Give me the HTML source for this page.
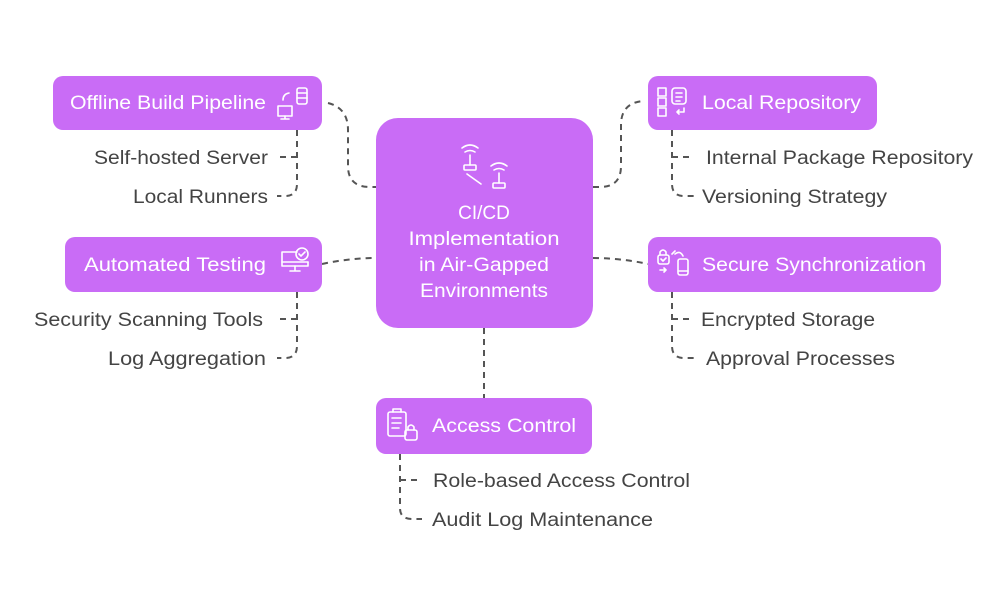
<!DOCTYPE html>
<html><head><meta charset="utf-8"><style>
html,body{margin:0;padding:0;background:#fff;}
svg{display:block;}
text{font-family:"Liberation Sans",sans-serif;}
.l{fill:#444;font-size:19px;}
.w{fill:#fff;font-size:19px;}
.d{fill:none;stroke:#555;stroke-width:2;stroke-dasharray:6 5;}
.i{fill:none;stroke:#fff;stroke-width:1.6;stroke-linecap:round;stroke-linejoin:round;}
</style></head><body>
<svg width="1008" height="591" viewBox="0 0 1008 591" xmlns="http://www.w3.org/2000/svg">
<rect width="1008" height="591" fill="#fff"/>
<!-- connectors -->
<path class="d" d="M328 103 Q348 108 348 130 L348 166 Q348 187 370 187 L376 187"/>
<path class="d" d="M593 187 L600 187 Q621 187 621 166 L621 125 Q621 103 643 101"/>
<path class="d" d="M322 264 Q350 258 376 258"/>
<path class="d" d="M593 258 Q620 258 648 264"/>
<path class="d" d="M484 328 L484 398"/>
<!-- sub trees left -->
<path class="d" d="M297 130 L297 184 Q297 196 285 196 L277 196"/>
<path class="d" d="M297 157 L277 157"/>
<path class="d" d="M297 292 L297 346 Q297 358 285 358 L277 358"/>
<path class="d" d="M297 319 L277 319"/>
<!-- right -->
<path class="d" d="M672 130 L672 184 Q672 196 684 196 L694 196"/>
<path class="d" d="M672 157 L694 157"/>
<path class="d" d="M672 292 L672 346 Q672 358 684 358 L694 358"/>
<path class="d" d="M672 319 L694 319"/>
<!-- bottom -->
<path class="d" d="M400 454 L400 508 Q400 519 412 519 L422 519"/>
<path class="d" d="M400 480 L422 480"/>
<!-- boxes -->
<g fill="#c96cf6">
<rect x="53" y="76" width="269" height="54" rx="10"/>
<rect x="376" y="118" width="217" height="210" rx="22"/>
<rect x="648" y="76" width="229" height="54" rx="10"/>
<rect x="65" y="237" width="257" height="55" rx="10"/>
<rect x="648" y="237" width="293" height="55" rx="10"/>
<rect x="376" y="398" width="216" height="56" rx="10"/>
</g>
<!-- box texts -->
<text class="w" x="70" y="109" textLength="196" lengthAdjust="spacingAndGlyphs">Offline Build Pipeline</text>
<text class="w" x="84" y="271" textLength="182" lengthAdjust="spacingAndGlyphs">Automated Testing</text>
<text class="w" x="702" y="109" textLength="159" lengthAdjust="spacingAndGlyphs">Local Repository</text>
<text class="w" x="702" y="271" textLength="224" lengthAdjust="spacingAndGlyphs">Secure Synchronization</text>
<text class="w" x="432" y="432" textLength="144" lengthAdjust="spacingAndGlyphs">Access Control</text>
<g class="w" text-anchor="middle">
<text x="484" y="219">CI/CD</text>
<text x="484" y="245" textLength="151" lengthAdjust="spacingAndGlyphs">Implementation</text>
<text x="484" y="271" textLength="130" lengthAdjust="spacingAndGlyphs">in Air-Gapped</text>
<text x="484" y="297" textLength="128" lengthAdjust="spacingAndGlyphs">Environments</text>
</g>
<!-- labels -->
<text class="l" x="94" y="164" textLength="174" lengthAdjust="spacingAndGlyphs">Self-hosted Server</text>
<text class="l" x="133" y="203" textLength="135" lengthAdjust="spacingAndGlyphs">Local Runners</text>
<text class="l" x="34" y="326" textLength="229" lengthAdjust="spacingAndGlyphs">Security Scanning Tools</text>
<text class="l" x="108" y="365" textLength="158" lengthAdjust="spacingAndGlyphs">Log Aggregation</text>
<text class="l" x="706" y="164" textLength="267" lengthAdjust="spacingAndGlyphs">Internal Package Repository</text>
<text class="l" x="702" y="203" textLength="185" lengthAdjust="spacingAndGlyphs">Versioning Strategy</text>
<text class="l" x="701" y="326" textLength="174" lengthAdjust="spacingAndGlyphs">Encrypted Storage</text>
<text class="l" x="706" y="365" textLength="189" lengthAdjust="spacingAndGlyphs">Approval Processes</text>
<text class="l" x="433" y="487" textLength="257" lengthAdjust="spacingAndGlyphs">Role-based Access Control</text>
<text class="l" x="432" y="526" textLength="221" lengthAdjust="spacingAndGlyphs">Audit Log Maintenance</text>
<!-- icons -->
<g class="i">
<!-- offline build -->
<rect x="278" y="106" width="14" height="10"/><path d="M285 116 v3 M281 119 h8"/>
<path d="M283 100 q0 -6 6 -7"/><rect x="297" y="88" width="10" height="16" rx="2"/><path d="M297 93 h10 M297 98 h10"/>
<!-- central -->
<path d="M462 148 q8 -6 16 0 M465 152 q5 -3 10 0 M470 155 v10"/><rect x="464" y="165" width="12" height="5" rx="1"/>
<path d="M491 166 q8 -6 16 0 M494 170 q5 -3 10 0 M499 173 v10"/><rect x="493" y="183" width="12" height="5" rx="1"/>
<path d="M467 174 l14 10"/>
<!-- automated testing -->
<path d="M297 252 h-15 v14 h26 v-4"/><path d="M282 262 h26 M295 266 v4 M290 271 h10"/>
<circle cx="302" cy="254" r="6"/><path d="M299 254 l2 2 l4 -4"/>
<!-- local repo -->
<rect x="658" y="88" width="8" height="8"/><rect x="658" y="98" width="8" height="8"/><rect x="658" y="108" width="8" height="8"/>
<rect x="672" y="88" width="14" height="16" rx="3"/><path d="M676 93 h6 M676 97 h6 M676 101 h4"/><path d="M684 108 v4 h-7 M679 110 l-2 2 l2 2"/>
<!-- secure sync -->
<rect x="658" y="255" width="11" height="9" rx="2"/><path d="M660 255 v-3 q3 -4 6 0 v3 M661 259 l2 2 l3 -3"/>
<rect x="678" y="259" width="10" height="16" rx="2"/><path d="M678 271 h10 M675 254 q5 -4 8 2 M672 254 l3 -3 M660 270 h6 M664 268 l2 2 l-2 2"/>
<!-- access control -->
<rect x="388" y="412" width="18" height="24" rx="2"/><path d="M393 412 v-3 h8 v3 M392 418 h9 M392 423 h9 M392 428 h7"/>
<rect x="405" y="430" width="12" height="10" rx="2"/><path d="M408 430 v-3 q3 -4 6 0 v3"/>
</g>
</svg>
</body></html>
